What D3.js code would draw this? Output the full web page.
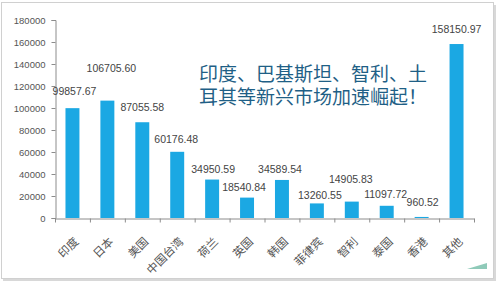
<!DOCTYPE html>
<html>
<head>
<meta charset="utf-8">
<script src="https://cdn.jsdelivr.net/npm/d3@7"></script>
<style>
  body { margin: 0; background: #fff; }
  svg { display: block; }
</style>
</head>
<body>
<div id="chart"></div>
<script>
// 各市场数值
const categories = ["印度", "日本", "美国", "中国台湾", "荷兰", "英国", "韩国", "菲律宾", "智利", "泰国", "香港", "其他"];
const values = [99857.67, 106705.60, 87055.58, 60176.48, 34950.59, 18540.84, 34589.54, 13260.55, 14905.83, 11097.72, 960.52, 158150.97];
const yTicks = [0, 20000, 40000, 60000, 80000, 100000, 120000, 140000, 160000, 180000];
const titleLines = ["印度、巴基斯坦、智利、土", "耳其等新兴市场加速崛起！"];

// label nudges (layout only), [dx, dy above bar top]
const labelNudge = [[2, 17], [4, 32], [0, 15], [-1, 12], [1, 10], [-3, 10], [-2, 11], [3, 8], [-1, 22], [-1, 11], [1, 15], [0, 15]];

const width = 500, height = 283;

const svg = d3.select("#chart").append("svg")
  .attr("width", width)
  .attr("height", height);

// frame with shadow
svg.append("rect")
  .attr("x", 3).attr("y", 5).attr("width", 493).attr("height", 276)
  .attr("fill", "#d8d8d8");
svg.append("rect")
  .attr("x", 1.5).attr("y", 2.5).attr("width", 492).attr("height", 276)
  .attr("fill", "#fff")
  .attr("stroke", "#d0d0d0");

svg.append("path")
  .attr("d", "M467,269L487,263L487,269Z")
  .attr("fill", "#8fcab9");

let x = d3.scaleBand()
  .domain(categories)
  .range([55, 474])
  .paddingInner(0.6)
  .paddingOuter(0.3);

let y = d3.scaleLinear()
  .domain([0, 180000])
  .range([218, 20]);

// y axis
let yAxis = svg.append("g")
  .attr("transform", "translate(55.5,0)")
  .call(d3.axisLeft(y).tickValues(yTicks).tickSize(4).tickFormat(d3.format("d")));
yAxis.select(".domain").attr("stroke", "#8c8c8c");
yAxis.selectAll(".tick line").attr("stroke", "#8c8c8c");
yAxis.selectAll("text")
  .attr("fill", "#555")
  .attr("x", -10)
  .style("font-family", "Liberation Sans, Arial, sans-serif")
  .style("font-size", "9.5px");

// x axis
let xAxis = svg.append("g")
  .attr("transform", "translate(0,218.5)")
  .call(d3.axisBottom(x).tickSize(0));
xAxis.select(".domain").attr("stroke", "#8c8c8c");
xAxis.selectAll(".tick text")
  .attr("fill", "#555")
  .attr("transform", "translate(4,21) rotate(-45)")
  .attr("dy", "0.35em")
  .attr("y", 0)
  .style("text-anchor", "end")
  .style("font-family", "Noto Sans CJK SC, sans-serif")
  .style("font-size", "11.5px");

// tick marks between categories
svg.append("g")
  .selectAll("line")
  .data(d3.range(categories.length + 1))
  .enter().append("line")
  .attr("x1", i => 55.5 + i * (419 / categories.length))
  .attr("x2", i => 55.5 + i * (419 / categories.length))
  .attr("y1", 218.5)
  .attr("y2", 222.5)
  .attr("stroke", "#8c8c8c");

// bars
svg.append("g")
  .selectAll("rect")
  .data(values)
  .enter().append("rect")
  .attr("x", (d, i) => x(categories[i]))
  .attr("y", d => y(d))
  .attr("width", x.bandwidth())
  .attr("height", d => y(0) - y(d))
  .attr("fill", "#1ba8e3");

// value labels
svg.append("g")
  .selectAll("text")
  .data(values)
  .enter().append("text")
  .attr("x", (d, i) => x(categories[i]) + x.bandwidth() / 2 + labelNudge[i][0])
  .attr("y", (d, i) => y(d) - labelNudge[i][1])
  .attr("dy", "0.35em")
  .attr("text-anchor", "middle")
  .attr("fill", "#444")
  .style("font-family", "Liberation Sans, Arial, sans-serif")
  .style("font-size", "10.5px")
  .text(d => d3.format(".2f")(d));

// title, one text block with two lines
svg.append("text")
  .attr("fill", "#1f5f86")
  .style("font-family", "Noto Sans CJK SC, sans-serif")
  .style("font-size", "19px")
  .selectAll("tspan")
  .data(titleLines)
  .enter().append("tspan")
  .attr("x", 199)
  .attr("y", (d, i) => 74 + i * 23)
  .attr("dy", "0.35em")
  .text(d => d);
</script>
</body>
</html>
